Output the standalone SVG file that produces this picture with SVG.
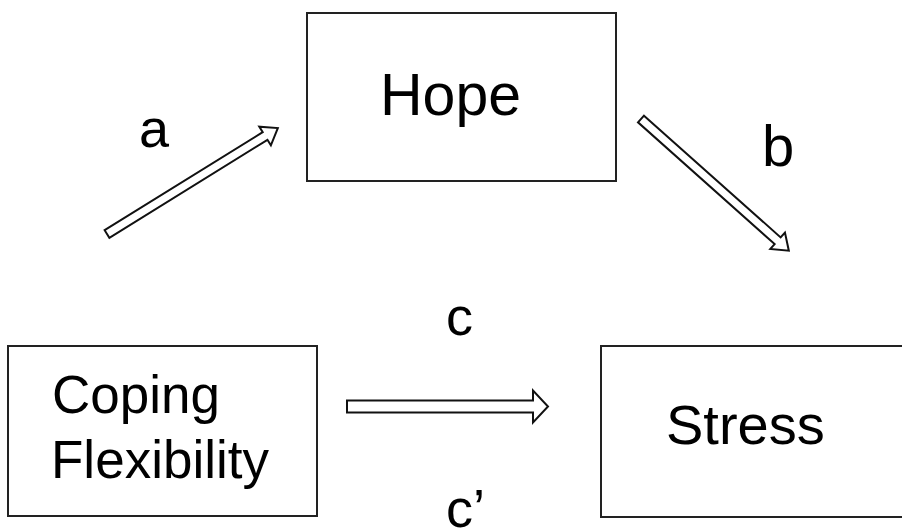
<svg xmlns="http://www.w3.org/2000/svg" width="902" height="529" viewBox="0 0 902 529">
<style>
.box{fill:#fff;stroke:#222;stroke-width:2}
.arr{fill:#fff;stroke:#111;stroke-width:2;stroke-linejoin:miter}
text{font-family:"Liberation Sans",Arial,sans-serif;fill:#000}
</style>
<rect width="902" height="529" fill="#fff"/>
<g id="hope">
<rect class="box" x="307" y="13" width="309" height="168"/>
<text x="380" y="115" font-size="59">Hope</text>
</g>
<g id="coping">
<rect class="box" x="8" y="346" width="309" height="170"/>
<text x="52" y="413" font-size="53">Coping</text>
<text x="51" y="478" font-size="53">Flexibility</text>
</g>
<g id="stress">
<rect class="box" x="601" y="346" width="320" height="171"/>
<text x="666" y="444" font-size="56">Stress</text>
</g>
<g id="connectors">
<g transform="translate(107,234) rotate(-31.8)">
<path class="arr" d="M0,-4.5 H186 V-11 L201,0 L186,11 V4.5 H0 Z"/>
</g>
<g transform="translate(641,119) rotate(41.7)">
<path class="arr" d="M0,-4.5 H183 V-11 L198,0 L183,11 V4.5 H0 Z"/>
</g>
<g transform="translate(347,406.5)">
<path class="arr" d="M0,-6 H186 V-16 L201,0 L186,16 V6 H0 Z"/>
</g>
</g>
<g id="labels">
<text x="139" y="147" font-size="54">a</text>
<text x="762" y="166" font-size="58">b</text>
<text x="446" y="335" font-size="54">c</text>
<text x="446" y="527" font-size="54">c’</text>
</g>
</svg>
